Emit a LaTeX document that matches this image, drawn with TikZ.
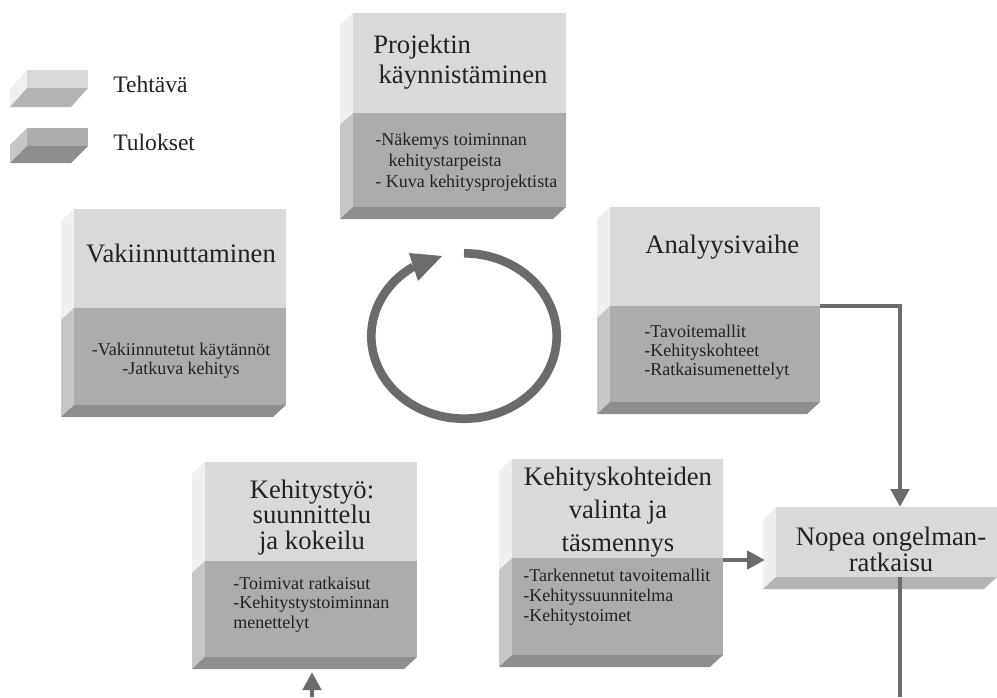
\documentclass[tikz,border=0pt]{standalone}
\usepackage{fontspec}
\setmainfont{Liberation Serif}
\usetikzlibrary{arrows.meta,fit}
\definecolor{frontL}{HTML}{D9D9D9}
\definecolor{frontD}{HTML}{ACACAC}
\definecolor{sideL}{HTML}{EFEFEF}
\definecolor{sideD}{HTML}{C6C6C6}
\definecolor{botL}{HTML}{B3B3B3}
\definecolor{botD}{HTML}{8E8E8E}
\definecolor{connc}{HTML}{6B6B6B}
\definecolor{txt}{HTML}{222222}
% name, x1, y1, x2, split, y2
\newcommand\mkblock[6]{%
  \fill[sideL] (#2,#3) -- (#2,#5) -- ({#2-13},{#5+12}) -- ({#2-13},{#3+12}) -- cycle;
  \fill[sideD] (#2,#5) -- (#2,#6) -- ({#2-13},{#6+12}) -- ({#2-13},{#5+12}) -- cycle;
  \fill[botD] (#2,#6) -- (#4,#6) -- ({#4-13},{#6+12}) -- ({#2-13},{#6+12}) -- cycle;
  \fill[frontL] (#2,#3) rectangle (#4,#5);
  \fill[frontD] (#2,#5) rectangle (#4,#6);
  \node[fit={(#2,#3) (#4,#6)}, inner sep=0pt] (#1) {};
}
\tikzset{
  ttl/.style={text=txt, inner sep=0pt},
  sml/.style={text=txt, inner sep=0pt},
  lgd/.style={text=txt, inner sep=0pt, font=\fontsize{17.7}{20}\selectfont},
  link/.style={draw=connc, line width=3.4pt},
  tip/.style={-{Triangle[length=13.5pt,width=13.5pt]}},
}
\begin{document}
\begin{tikzpicture}[x=0.75pt,y=-0.75pt]
\useasboundingbox (0,0) rectangle (997,697);

% legend
\fill[sideL] (27,70) -- (27,88) -- (10,107) -- (10,89) -- cycle;
\fill[botL] (27,88) -- (88,88) -- (71,107) -- (10,107) -- cycle;
\fill[frontL] (27,70) rectangle (88,88);
\node[fit={(27,70) (88,88)}, inner sep=0pt] (lg1) {};
\fill[sideD] (27,128) -- (27,146) -- (10,163) -- (10,145) -- cycle;
\fill[botD] (27,146) -- (88,146) -- (71,163) -- (10,163) -- cycle;
\fill[frontD] (27,128) rectangle (88,146);
\node[fit={(27,128) (88,146)}, inner sep=0pt] (lg2) {};
\node[lgd, anchor=base west] (lg1t) at (113,92) {Tehtävä};
\node[lgd, anchor=base west] (lg2t) at (113,150) {Tulokset};

% blocks
\mkblock{P}{353}{13}{566}{113}{207}
\mkblock{V}{74}{209}{286}{308}{405}
\mkblock{A}{610}{207}{820}{306}{402}
\mkblock{K}{205}{462}{417}{561}{657}
\mkblock{KK}{512}{459}{723}{558}{655}
% Nopea (task only)
\fill[sideL] (776,507) -- (776,577) -- (763,589) -- (763,520) -- cycle;
\fill[botL] (776,577) -- (997,577) -- (984,589) -- (763,589) -- cycle;
\fill[frontL] (776,507) rectangle (997,577);
\node[fit={(776,507) (997,577)}, inner sep=0pt] (N) {};

% texts (multi-line nodes: base anchor = last line)
\node[ttl, align=left, anchor=base west, font=\fontsize{20}{22.5}\selectfont] (Pt) at (373,83)
  {Projektin\\\hspace*{4pt}käynnistäminen};
\node[sml, align=left, anchor=base west, font=\fontsize{13.5}{15.75}\selectfont] (Ps) at (375,187)
  {-Näkemys toiminnan\\\hspace*{10pt}kehitystarpeista\\- Kuva kehitysprojektista};

\node[ttl, anchor=base, font=\fontsize{20}{24}\selectfont] (Vt) at (181,262) {Vakiinnuttaminen};
\node[sml, align=center, anchor=base, font=\fontsize{13.5}{14.25}\selectfont] (Vs) at (181,374)
  {-Vakiinnutetut käytännöt\\-Jatkuva kehitys};

\node[ttl, anchor=base west, font=\fontsize{20}{24}\selectfont] (At) at (645,253) {Analyysivaihe};
\node[sml, align=left, anchor=base west, font=\fontsize{13.5}{14.25}\selectfont] (As) at (644,375)
  {-Tavoitemallit\\-Kehityskohteet\\-Ratkaisumenettelyt};

\node[ttl, align=center, anchor=base, font=\fontsize{20}{19}\selectfont] (Kt) at (312,549)
  {Kehitystyö:\\suunnittelu\\ja kokeilu};
\node[sml, align=left, anchor=base west, font=\fontsize{13.5}{14.6}\selectfont] (Ks) at (233,628)
  {-Toimivat ratkaisut\\-Kehitystystoiminnan\\menettelyt};

\node[ttl, align=center, anchor=base, font=\fontsize{20}{24.4}\selectfont] (KKt) at (618,551)
  {Kehityskohteiden\\valinta ja\\täsmennys};
\node[sml, align=left, anchor=base west, font=\fontsize{13.5}{15}\selectfont] (KKs) at (523,621)
  {-Tarkennetut tavoitemallit\\-Kehityssuunnitelma\\-Kehitystoimet};

\node[ttl, align=center, anchor=base, font=\fontsize{20}{19.5}\selectfont] (Nt) at (891,571)
  {Nopea ongelman-\\ratkaisu};

% connectors
\coordinate (a-out) at (820,306);
\coordinate (n-in) at (900,507);
\coordinate (kk-out) at (723,560);
\coordinate (n-left) at (765,560);
\coordinate (n-out) at (900,577);
\coordinate (n-end) at (900,697);
\coordinate (k-src) at (312,697);
\coordinate (k-in) at (312,672);
\draw[link,tip] (a-out) -| (n-in);
\draw[link,tip] (kk-out) -- (n-left);
\draw[link] (n-out) -- (n-end);
\draw[link,tip] (k-src) -- (k-in);

% cycle arrow
\coordinate (cyc) at (464,336);
\draw[connc, line width=6.5pt] (464,253.3) arc[start angle=-90, end angle=237, x radius=92.7, y radius=82.7];
\fill[connc] (409,253) -- (442,256) -- (418,281) -- cycle;
\end{tikzpicture}
\end{document}
